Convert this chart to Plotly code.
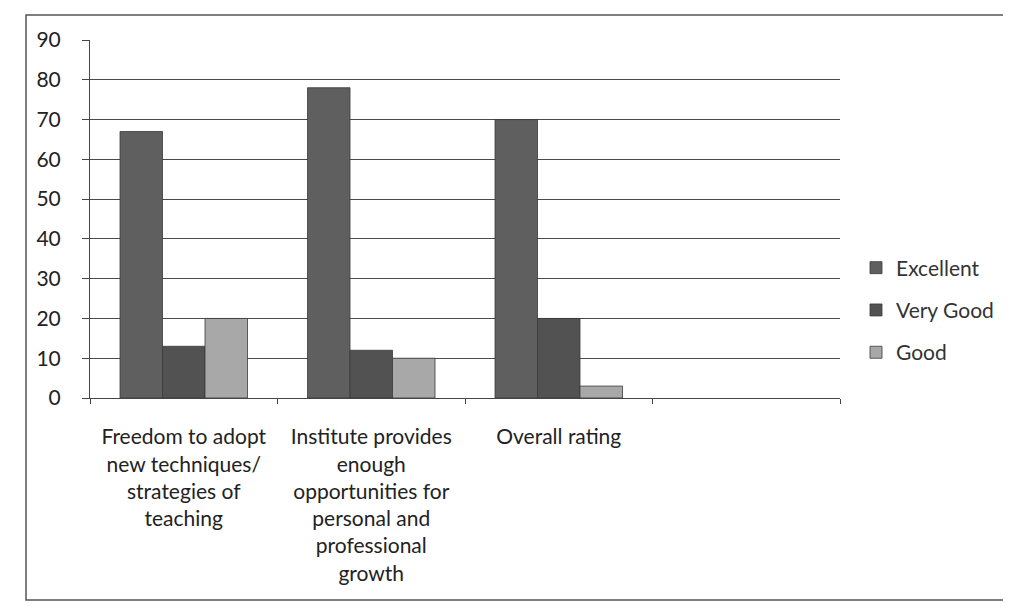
import plotly.graph_objects as go

categories = [
    "Freedom to adopt<br>new techniques/<br>strategies of<br>teaching",
    "Institute provides<br>enough<br>opportunities for<br>personal and<br>professional<br>growth",
    "Overall rating",
    " ",
]
series_names = ["Excellent", "Very Good", "Good"]
excellent = [67, 78, 70]
very_good = [13, 12, 20]
good = [20, 10, 3]
y_ticks = [0, 10, 20, 30, 40, 50, 60, 70, 80, 90]

colors = ["#5f5f5f", "#525252", "#a8a8a8"]
values = [excellent, very_good, good]

fig = go.Figure()
for i, (name, vals) in enumerate(zip(series_names, values)):
    fig.add_trace(go.Bar(
        x=categories[:len(vals)], y=vals, name=name,
        marker=dict(color=colors[i], line=dict(color="#3a3a3a", width=0.8)),
        legendgroup=name,
    ))

OFF = 8  # page body margin
L, R, T, B = 90 - OFF, 840 - OFF, 40 - OFF, 398 - OFF
W, H = 1011, 609
pw, ph = R - L, B - T

font_family = "Lato, 'Open Sans', sans-serif"
fig.update_layout(
    width=W, height=H,
    margin=dict(l=L, r=W - R, t=T, b=H - B, autoexpand=False),
    paper_bgcolor="white", plot_bgcolor="white",
    barmode="group", bargap=0.32, bargroupgap=0,
    font=dict(family=font_family, size=21, color="#222222"),
    legend=dict(x=(856 - OFF - L) / pw, y=(B - (310 - OFF)) / ph, xanchor="left", yanchor="middle",
                traceorder="grouped", tracegroupgap=12, itemwidth=30,
                font=dict(size=21, color="#333333"), bgcolor="rgba(0,0,0,0)"),
    xaxis=dict(type="category", categoryorder="array", categoryarray=categories,
               range=[-0.5, 3.5], showline=True, linecolor="#444444", linewidth=1,
               ticks="outside", tickson="boundaries", ticklen=5, tickcolor="#444444",
               showgrid=False, automargin=False, ticklabelstandoff=20,
               tickfont=dict(size=21, color="#222222")),
    yaxis=dict(range=[0, 90], tickvals=y_ticks, showline=True, linecolor="#444444",
               linewidth=1, ticks="outside", ticklen=7, tickcolor="#444444",
               showgrid=True, gridcolor="#4a4a4a", gridwidth=1, zeroline=False,
               automargin=False, ticklabelstandoff=17,
               tickfont=dict(size=21, color="#222222")),
    shapes=[dict(type="rect", xref="paper", yref="paper",
                 x0=(26 - OFF - L) / pw, x1=(1005 - OFF - L) / pw,
                 y0=(B - (600 - OFF)) / ph, y1=(B - (15 - OFF)) / ph,
                 line=dict(color="#555555", width=1.5), fillcolor="rgba(0,0,0,0)")],
)

fig.write_html("out.html")
